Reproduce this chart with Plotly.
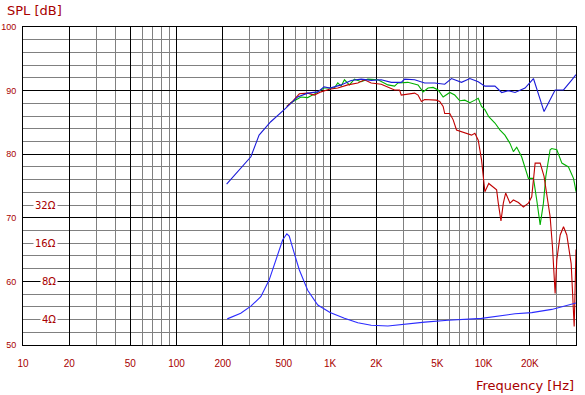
import math
import plotly.graph_objects as go

# ---------------- data ----------------
spl_blue_f = [212, 229, 262, 305, 345, 411, 503, 615, 715, 832, 914, 1000, 1180, 1372, 1595, 1853,
              2155, 2505, 2910, 3061, 3556, 4133, 4804, 5584, 6180, 7180, 8145, 9230, 10200, 11860,
              13120, 14500, 16030, 18630, 21130, 22770, 24770, 29250, 33170, 37590, 40000]
spl_blue_db = [75.3, 76.2, 77.8, 79.6, 83.0, 85.1, 87.0, 89.0, 89.6, 89.8, 90.6, 90.4, 90.9, 91.6, 91.8, 91.6,
               91.7, 91.3, 91.3, 91.8, 91.7, 91.2, 91.2, 91.0, 91.9, 91.3, 91.9, 91.4, 90.7, 90.7,
               89.7, 90.0, 89.7, 90.4, 91.9, 89.6, 86.7, 90.1, 90.1, 91.7, 92.5]

spl_red_f = [523, 570, 631, 715, 789, 874, 990, 1123, 1305, 1517, 1676, 1853, 2155, 2382, 2632, 2837,
             2910, 3556, 3743, 3935, 4133, 4928, 5180, 5453, 5584, 6025, 6339, 6664, 7180, 7740, 8350,
             8780, 9230, 9700, 9950, 10200, 10810, 12160, 12470, 12980, 13450, 13930, 14860, 15640,
             16860, 18170, 19590, 20590, 21670, 23370, 24770, 26100, 27130, 28100, 29250, 30000,
             31550, 33170, 34850, 37200, 38920, 39400, 40000]
spl_red_db = [87.5, 88.3, 89.5, 89.6, 89.3, 89.8, 90.2, 90.4, 90.9, 91.2, 91.7, 91.2, 91.0, 90.6, 90.1, 90.1,
              89.3, 89.6, 89.3, 88.3, 88.6, 88.5, 88.3, 87.5, 86.4, 86.4, 85.4, 83.8, 83.5, 83.3, 83.0,
              83.3, 82.2, 79.1, 75.9, 74.1, 75.4, 74.4, 72.3, 69.5, 72.3, 73.9, 72.3, 72.8,
              72.4, 71.7, 72.3, 73.3, 78.6, 78.6, 76.5, 72.8, 70.2, 65.5, 58.1, 63.4,
              67.3, 68.6, 67.3, 62.8, 52.9, 58.0, 65.0]

spl_green_f = [523, 556, 646, 715, 810, 914, 1067, 1123, 1180, 1241, 1337, 1442, 1595, 1762, 2050, 2382,
               2632, 2767, 3212, 3743, 4036, 4349, 4688, 5058, 5453, 6025, 6490, 7000, 7550, 8145, 8780,
               9230, 9700, 10200, 10810, 11860, 12800, 13770, 14860, 15640, 16440, 17700, 19590, 21130,
               22200, 23370, 24540, 25430, 27130, 27810, 30000, 32360, 35730, 38520, 39500, 40000]
spl_green_db = [87.5, 88.1, 89.0, 88.9, 89.6, 90.4, 90.4, 91.2, 90.7, 91.7, 90.9, 91.8, 91.4, 91.8, 91.7, 90.9,
                90.7, 91.2, 91.3, 90.9, 89.8, 90.4, 90.5, 90.1, 89.0, 89.7, 89.3, 88.4, 88.5, 88.1, 88.5,
                88.8, 87.5, 87.0, 85.9, 84.9, 83.8, 83.0, 81.7, 80.4, 81.1, 79.6, 76.2, 76.2,
                72.8, 68.9, 72.3, 76.5, 80.7, 80.9, 80.7, 78.6, 78.0, 76.2, 74.9, 74.1]

imp_f = [214, 262, 305, 354, 401, 444, 491, 523, 542, 585, 631, 715, 832, 1000, 1241, 1517, 1853,
         2382, 3061, 4133, 5865, 9700, 16030, 20590, 27810, 35730, 40000]
imp_ohm = [4.05, 4.49, 5.10, 6.06, 8.19, 11.85, 16.95, 19.0, 18.2, 13.3, 9.85, 6.81, 5.21, 4.54, 4.09,
           3.78, 3.61, 3.56, 3.69, 3.82, 3.95, 4.09, 4.44, 4.54, 4.81, 5.21, 5.40]

x_tick_vals = [10, 20, 50, 100, 200, 500, 1000, 2000, 5000, 10000, 20000, 40000]
x_tick_text = ["10", "20", "50", "100", "200", "500", "1K", "2K", "5K", "10K", "20K", "40K"]
x_minor_vals = [30, 40, 60, 70, 80, 90, 300, 400, 600, 700, 800, 900, 3000, 4000, 6000, 7000, 8000,
                9000, 30000]
y_tick_vals = [50, 60, 70, 80, 90, 100]
imp_labels = [32, 16, 8, 4]

# impedance scale: 8 ohm at 60 dB, 6 dB per doubling
DB_MIN, DB_MAX = 50, 100
REF_OHM, REF_DB, DB_PER_DOUBLING = 8, 60, 6
y2_lo = math.log10(REF_OHM * 2 ** ((DB_MIN - REF_DB) / DB_PER_DOUBLING))
y2_hi = math.log10(REF_OHM * 2 ** ((DB_MAX - REF_DB) / DB_PER_DOUBLING))

DARKRED = "#a80000"
FONT = "DejaVu Sans"
TICKFONT = "Liberation Sans"

fig = go.Figure()
fig.add_trace(go.Scatter(x=imp_f, y=imp_ohm, yaxis="y2", mode="lines",
                         line=dict(color="#2b2bff", width=1.1), hoverinfo="skip"))
fig.add_trace(go.Scatter(x=spl_green_f, y=spl_green_db, mode="lines",
                         line=dict(color="#00b000", width=1.1), hoverinfo="skip"))
fig.add_trace(go.Scatter(x=spl_red_f, y=spl_red_db, mode="lines",
                         line=dict(color="#c00000", width=1.1), hoverinfo="skip"))
fig.add_trace(go.Scatter(x=spl_blue_f, y=spl_blue_db, mode="lines",
                         line=dict(color="#1a1ad8", width=1.1), hoverinfo="skip"))

annotations = []
for z in imp_labels:
    annotations.append(dict(x=0.064, xref="paper", y=math.log10(z), yref="y2",
                            text=f"{z}Ω", showarrow=False, xanchor="right", yanchor="middle",
                            bgcolor="white", borderpad=1,
                            font=dict(family=FONT, size=10, color=DARKRED)))
annotations.append(dict(x=-0.033, xref="paper", y=1.0, yref="paper", yshift=17,
                        text="SPL [dB]", showarrow=False, xanchor="left", yanchor="middle",
                        font=dict(family=FONT, size=13, color=DARKRED)))
annotations.append(dict(x=1.0, xref="paper", y=0, yref="paper", yshift=-40,
                        text="Frequency [Hz]", showarrow=False, xanchor="right", yanchor="middle",
                        font=dict(family=FONT, size=13, color=DARKRED)))

fig.update_layout(
    width=585, height=395,
    margin=dict(l=23, r=9, t=27, b=50, autoexpand=False),
    paper_bgcolor="white", plot_bgcolor="white",
    showlegend=False,
    annotations=annotations,
    xaxis=dict(type="log", range=[1, math.log10(40000)], automargin=False,
               tickmode="array", tickvals=x_tick_vals, ticktext=x_tick_text,
               showgrid=True, gridcolor="black", gridwidth=1,
               minor=dict(tickmode="array", tickvals=x_minor_vals, showgrid=True,
                          gridcolor="#808080", gridwidth=1, ticks=""),
               showline=True, linecolor="black", linewidth=1, mirror=True,
               ticks="", ticklabelstandoff=9,
               tickfont=dict(family=TICKFONT, size=10, color=DARKRED), zeroline=False),
    yaxis=dict(range=[DB_MIN, DB_MAX], tickmode="array", tickvals=y_tick_vals, automargin=False,
               showgrid=True, gridcolor="black", gridwidth=1,
               minor=dict(dtick=2, tick0=50, showgrid=True, gridcolor="#808080", gridwidth=1, ticks=""),
               showline=True, linecolor="black", linewidth=1, mirror=True,
               ticks="", ticklabelstandoff=4,
               tickfont=dict(family=TICKFONT, size=9, color=DARKRED), zeroline=False),
    yaxis2=dict(type="log", range=[y2_lo, y2_hi], overlaying="y", side="left", automargin=False,
                showgrid=False, showticklabels=False, showline=False, zeroline=False, ticks=""),
)

fig.write_html("out.html", config={"displayModeBar": False},
               post_script="document.body.style.margin='0';document.body.style.overflow='hidden';")
